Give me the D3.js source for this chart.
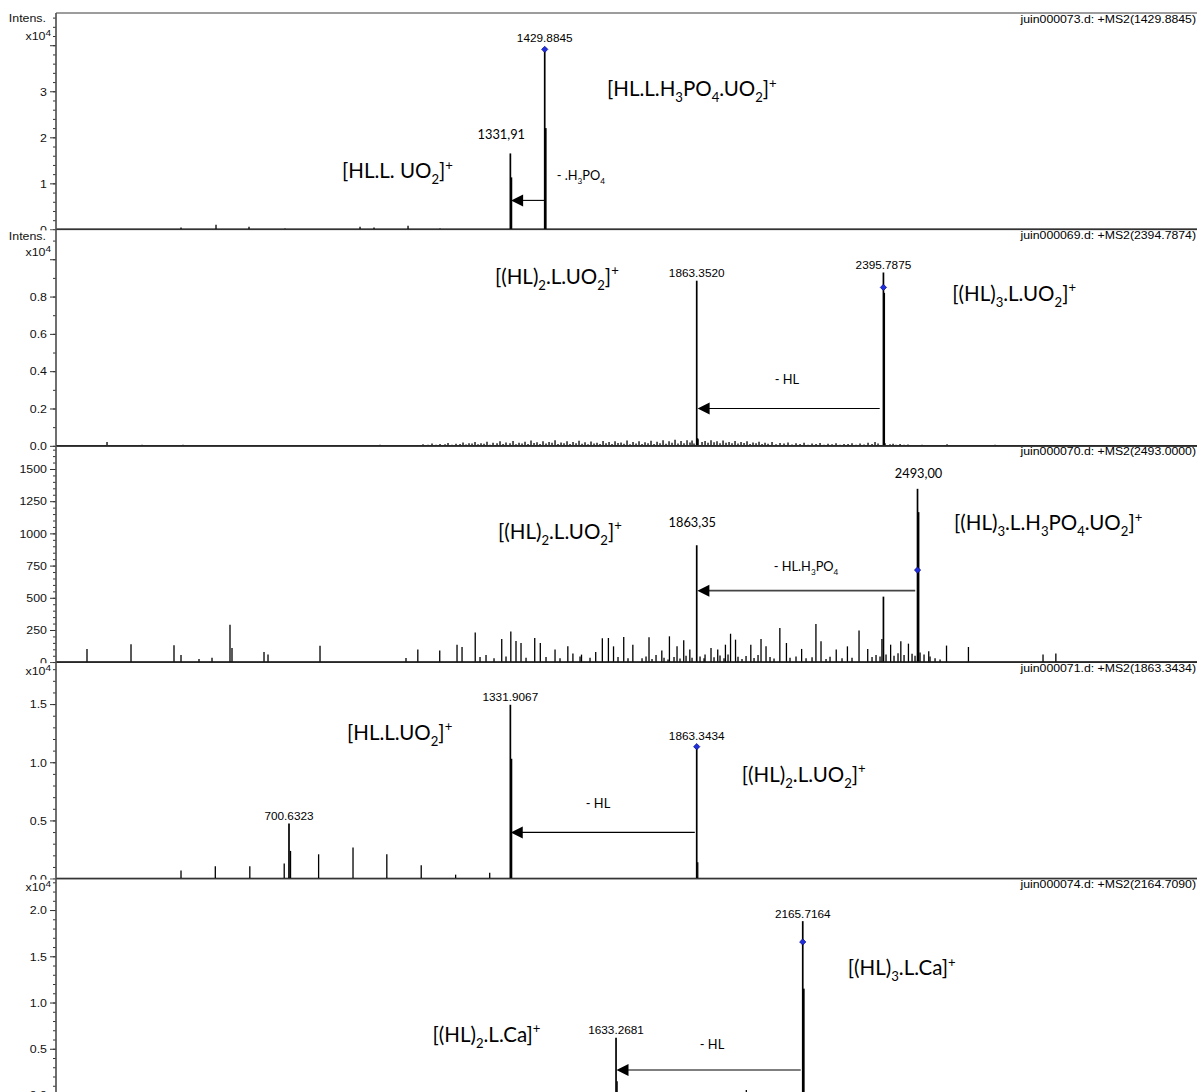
<!DOCTYPE html>
<html><head><meta charset="utf-8">
<script src="https://cdn.jsdelivr.net/npm/d3@7"></script>
<style>html,body{margin:0;padding:0;background:#fff}svg{display:block}</style>
</head><body>
<svg id="chart" width="1197" height="1092"></svg>
<script>
// ---------------- DATA ----------------
const mzDomain = [36.2, 3290];
const panelFiles = ["juin000073.d: +MS2(1429.8845)", "juin000069.d: +MS2(2394.7874)", "juin000070.d: +MS2(2493.0000)", "juin000071.d: +MS2(1863.3434)", "juin000074.d: +MS2(2164.7090)"];
const panelYMax = [4.7, 1.16, 1680, 1.86, 2.34];
const panelMajor = [[0,1,2,3,4],[0,0.2,0.4,0.6,0.8,1.0],[0,250,500,750,1000,1250,1500],[0,0.5,1.0,1.5],[0,0.5,1.0,1.5,2.0]];
const panelMajorLabels = [["0","1","2","3",""],["0.0","0.2","0.4","0.6","0.8",""],["0","250","500","750","1000","1250","1500"],["0.0","0.5","1.0","1.5"],["0.0","0.5","1.0","1.5","2.0"]];
const panelMinorStep = [0.2, 0.1, 50, 0.1, 0.1];
const panelIntens = [true, true, false, false, false];
const panelExp = [true, true, false, true, true];

// panel 1 (juin000073)
const p1Mz = [392.7, 492.5, 586.6, 689.3, 903.2, 943.1, 1040.1, 1131.3, 1331.91, 1334.9, 1429.8845, 1432.9];
const p1Int = [0.04, 0.10, 0.06, 0.02, 0.06, 0.04, 0.08, 0.02, 1.65, 1.13, 3.91, 2.20];
// panel 2 (juin000069)
const p2Mz = [1863.352, 1866.0, 2395.7875, 2398.0];
const p2Int = [0.885, 0.04, 0.929, 0.82];
const p2NoiseMz = [181.7, 281.5, 375.6, 398.4, 503.9, 618.0, 732.1, 846.1, 960.2, 1017.2, 1074.3, 1097.1, 1119.9, 1145.6, 1165.5, 1188.4, 1205.5, 1222.6, 1239.7, 1256.8, 1273.9, 1293.9, 1311.0, 1330.9, 1348.0, 1365.2, 1382.3, 1399.4, 1416.5, 1433.6, 1450.7, 1467.8, 1484.9, 1502.0, 1519.2, 1536.3, 1553.4, 1570.5, 1587.6, 1604.7, 1621.8, 1638.9, 1656.0, 1673.1, 1690.3, 1707.4, 1724.5, 1741.6, 1758.7, 1775.8, 1792.9, 1810.0, 1827.1, 1844.2, 1855.6, 1878.5, 1895.6, 1912.7, 1929.8, 1946.9, 1964.0, 1981.1, 1998.3, 2015.4, 2032.5, 2049.6, 2066.7, 2089.5, 2112.3, 2135.1, 2158.0, 2180.8, 2203.6, 2226.4, 2249.2, 2272.0, 2294.9, 2317.7, 2340.5, 2363.3, 2380.4, 2414.6, 2431.7, 2454.6, 2477.4, 2505.9, 2540.1, 2577.2, 2619.9, 2671.3, 2714.1, 2799.6, 2842.4, 2899.4];
const p2NoiseInt = [0.021, 0.006, 0.004, 0.005, 0.003, 0.004, 0.003, 0.004, 0.005, 0.004, 0.004, 0.006, 0.005, 0.008, 0.006, 0.010, 0.007, 0.012, 0.008, 0.011, 0.006, 0.013, 0.009, 0.014, 0.008, 0.012, 0.010, 0.015, 0.009, 0.012, 0.016, 0.010, 0.013, 0.009, 0.014, 0.011, 0.008, 0.012, 0.010, 0.013, 0.009, 0.015, 0.011, 0.008, 0.012, 0.010, 0.014, 0.009, 0.013, 0.011, 0.016, 0.012, 0.014, 0.018, 0.012, 0.020, 0.016, 0.019, 0.013, 0.017, 0.014, 0.012, 0.015, 0.010, 0.013, 0.009, 0.011, 0.008, 0.012, 0.007, 0.010, 0.006, 0.009, 0.005, 0.008, 0.006, 0.009, 0.005, 0.007, 0.010, 0.012, 0.008, 0.006, 0.005, 0.004, 0.006, 0.003, 0.008, 0.004, 0.003, 0.006, 0.004, 0.003, 0.004];
const p2Noise2Mz = [1082.8, 1108.5, 1131.3, 1154.1, 1176.9, 1196.9, 1214.0, 1231.1, 1248.2, 1265.3, 1282.5, 1302.4, 1319.5, 1339.5, 1356.6, 1373.7, 1390.8, 1407.9, 1425.0, 1442.2, 1459.3, 1476.4, 1493.5, 1510.6, 1527.7, 1544.8, 1561.9, 1579.0, 1596.2, 1613.3, 1630.4, 1647.5, 1664.6, 1681.7, 1698.8, 1715.9, 1733.0, 1750.2, 1767.3, 1784.4, 1801.5, 1818.6, 1835.7, 1850.0, 1867.1, 1887.1, 1904.1, 1921.2, 1938.4, 1955.5, 1972.6, 1989.7, 2006.8, 2023.9, 2041.0, 2058.1, 2078.1, 2100.9, 2123.7, 2146.5, 2169.4, 2192.2, 2215.0, 2237.8, 2260.6, 2283.4, 2306.2, 2329.1, 2351.9, 2371.8, 2400.4, 2423.2, 2443.2, 2465.9];
const p2Noise2Int = [0.008, 0.012, 0.010, 0.015, 0.011, 0.018, 0.013, 0.020, 0.014, 0.022, 0.016, 0.024, 0.018, 0.026, 0.017, 0.022, 0.028, 0.019, 0.025, 0.021, 0.030, 0.018, 0.024, 0.020, 0.027, 0.019, 0.023, 0.017, 0.026, 0.020, 0.024, 0.018, 0.028, 0.021, 0.025, 0.019, 0.027, 0.022, 0.030, 0.024, 0.032, 0.026, 0.030, 0.028, 0.035, 0.026, 0.030, 0.024, 0.028, 0.021, 0.026, 0.020, 0.025, 0.018, 0.022, 0.016, 0.020, 0.015, 0.018, 0.013, 0.016, 0.012, 0.015, 0.011, 0.014, 0.010, 0.013, 0.012, 0.016, 0.020, 0.014, 0.011, 0.009, 0.007];
// panel 3 (juin000070)
const p3Mz = [124.6, 250.1, 372.7, 392.7, 444.0, 481.1, 532.4, 538.1, 629.4, 640.8, 789.1, 1034.3, 1068.0, 1130.5, 1179.8, 1194.1, 1231.7, 1307.3, 1333.2, 1348.0, 1362.3, 1401.4, 1417.3, 1459.3, 1495.8, 1510.3, 1534.8, 1575.3, 1594.2, 1611.5, 1626.1, 1655.2, 1681.2, 1727.3, 1763.8, 1785.5, 1807.2, 1826.3, 1843.7, 1863.35, 1887.1, 1904.1, 1923.3, 1945.2, 1959.8, 1974.0, 2017.6, 2046.7, 2061.0, 2100.4, 2119.2, 2162.5, 2203.3, 2217.8, 2261.2, 2293.1, 2326.2, 2351.0, 2391.5, 2395.8, 2416.3, 2445.4, 2467.1, 2493.0, 2496.0, 2525.0, 2575.7, 2638.2, 2850.9, 2887.5];
const p3Int = [103, 140, 131, 55, 25, 35, 290, 110, 80, 60, 128, 33, 98, 90, 136, 118, 231, 180, 239, 165, 149, 188, 149, 98, 123, 67, 59, 80, 185, 188, 123, 195, 136, 193, 90, 201, 123, 170, 98, 908, 59, 110, 98, 136, 221, 175, 136, 180, 123, 265, 149, 103, 296, 162, 98, 123, 247, 103, 180, 509, 136, 162, 144, 1346, 1165, 85, 129, 118, 59, 67];
const p3GrassMz = [1245.4, 1262.5, 1285.3, 1319.5, 1376.6, 1433.6, 1473.5, 1530.6, 1559.1, 1638.9, 1667.4, 1707.4, 1718.8, 1735.9, 1747.3, 1770.1, 1781.5, 1798.6, 1815.7, 1832.9, 1850.0, 1872.8, 1884.2, 1912.7, 1929.8, 1941.2, 1952.6, 1981.1, 1992.5, 2004.0, 2026.8, 2038.2, 2072.4, 2083.8, 2129.4, 2146.5, 2175.1, 2192.2, 2232.1, 2243.5, 2277.7, 2306.2, 2363.3, 2374.7, 2386.1, 2403.2, 2426.0, 2437.4, 2454.6, 2477.4, 2485.9, 2500.2, 2511.6, 2528.7, 2543.0, 2557.3];
const p3GrassInt = [40, 55, 30, 45, 35, 40, 30, 45, 35, 40, 30, 30, 45, 25, 55, 35, 20, 40, 28, 50, 35, 45, 30, 38, 52, 30, 60, 42, 25, 48, 33, 55, 40, 28, 35, 45, 30, 38, 25, 42, 30, 35, 40, 55, 45, 60, 50, 70, 55, 65, 50, 75, 60, 45, 30, 20];
// panel 4 (juin000071)
const p4Mz = [392.7, 490.5, 588.9, 687.0, 700.6323, 705.0, 785.1, 883.2, 979.6, 1077.7, 1175.8, 1273.0, 1331.9067, 1335.0, 1863.3434, 1866.3];
const p4Int = [0.07, 0.106, 0.106, 0.129, 0.474, 0.238, 0.209, 0.267, 0.209, 0.115, 0.034, 0.05, 1.494, 1.03, 1.134, 0.14];
// panel 5 (juin000074)
const p5Mz = [1633.2681, 1636.3, 2004.8, 2165.7164, 2168.7];
const p5Int = [0.62, 0.15, 0.054, 1.88, 1.15];

// precursor markers (blue diamonds)
const precursorMz = [1429.8845, 2395.7875, 2493.0, 1863.3434, 2165.7164];
const precursorMarkInt = [3.91, 0.849, 715, 1.134, 1.655];

// instrument peak labels
const labelPanel = [0, 1, 1, 3, 3, 3, 4, 4];
const labelMz = [1429.8845, 1863.352, 2395.7875, 700.6323, 1331.9067, 1863.3434, 1633.2681, 2165.7164];

// annotations
const annPanel = [0, 0, 0, 0, 1, 1, 1, 2, 2, 2, 2, 2, 3, 3, 3, 4, 4, 4];
const annText = ["[HL.L.H_3PO_4.UO_2]^+", "[HL.L. UO_2]^+", "- .H_3PO_4", "1331,91",
  "[(HL)_2.L.UO_2]^+", "[(HL)_3.L.UO_2]^+", "- HL",
  "[(HL)_2.L.UO_2]^+", "[(HL)_3.L.H_3PO_4.UO_2]^+", "- HL.H_3PO_4", "2493,00", "1863,35",
  "[HL.L.UO_2]^+", "[(HL)_2.L.UO_2]^+", "- HL",
  "[(HL)_2.L.Ca]^+", "[(HL)_3.L.Ca]^+", "- HL"];
const annMz = [1607.6, 851.8, 1464.1, 1306.1, 1288.0, 2592.0, 2120.8, 1296.7, 2597.1, 2082.9, 2496.0, 1850.8, 866.1, 1992.0, 1581.9, 1109.9, 2294.2, 1907.0];
const annInt = [2.89, 1.11, 1.065, 1.957, 0.867, 0.777, 0.331, 960, 1024, 710, 1430, 1049, 1.192, 0.833, 0.603, 0.576, 1.296, 0.494];
const annKind = ["ion","ion","start","mid","ion","ion","mid","ion","ion","start","mid","mid","ion","ion","mid","ion","ion","mid"];

// neutral-loss arrows
const arrowPanel = [0, 1, 2, 3, 4];
const arrowFromMz = [1431.0, 2385.2, 2486.4, 1857.9, 2159.9];
const arrowToMz = [1334.0, 1866.0, 1865.3, 1333.0, 1634.5];
const arrowInt = [0.63, 0.2, 555.6, 0.397, 0.27];

// ---------------- DRAWING ----------------
const svg = d3.select("#chart");
const W = 1197;
const axisX = 56;
const top0 = 13, PH = 216.4;
const X = d3.scaleLinear().domain(mzDomain).range([axisX, W]);
const arial = "'Liberation Sans', Arial, sans-serif";
const calib = "Lato, 'Open Sans', sans-serif";
const SX = 1.18;

const zip = (a, b) => a.slice(0, Math.min(a.length, b.length)).map((m, k) => ({mz: m, v: b[k]}));
const panelPeaks = [
  zip(p1Mz, p1Int),
  zip(p2NoiseMz, p2NoiseInt).concat(zip(p2Noise2Mz, p2Noise2Int), zip(p2Mz, p2Int)),
  zip(p3GrassMz, p3GrassInt).concat(zip(p3Mz, p3Int)),
  zip(p4Mz, p4Int),
  zip(p5Mz, p5Int)
];

const intensOffset = [9, 11, 0, 0, 0];
const expOffset = [27, 26.7, 0, 13, 12.4];
const bgOffset = [0, 1, 6, 1, 1];

function richText(sel, str, x, y, size, family, anchor) {
  const t = sel.append("text").attr("x", x).attr("y", y)
    .attr("font-family", family).attr("font-size", size)
    .attr("text-anchor", anchor || "start").attr("fill", "#000");
  const segs = [];
  let i = 0;
  while (i < str.length) {
    const c = str[i];
    if (c === "_" || c === "^") { segs.push({t: str[i + 1], k: c}); i += 2; }
    else {
      let j = i;
      while (j < str.length && str[j] !== "_" && str[j] !== "^") j++;
      segs.push({t: str.slice(i, j), k: ""}); i = j;
    }
  }
  let shift = 0;
  segs.forEach(s => {
    const target = s.k === "_" ? size * 0.3 : s.k === "^" ? -size * 0.42 : 0;
    const ts = t.append("tspan").attr("dy", (target - shift).toFixed(2)).text(s.t);
    if (s.k) ts.attr("font-size", (size * 0.64).toFixed(2));
    shift = target;
  });
  return t;
}

panelYMax.forEach((ymax, i) => {
  const top = top0 + i * PH, base = top + PH;
  const Y = d3.scaleLinear().domain([0, ymax]).range([base, top]);
  const g = svg.append("g");

  g.append("rect").attr("x", 0).attr("y", i === 0 ? 0 : top + bgOffset[i])
    .attr("width", W).attr("height", i === 0 ? base : PH - bgOffset[i]).attr("fill", "#fff");

  g.append("line").attr("x1", axisX).attr("x2", W).attr("y1", top).attr("y2", top)
    .attr("stroke", "#3a3a3a").attr("stroke-width", 1);

  g.append("g").selectAll("line").data(panelPeaks[i]).join("line")
    .attr("x1", d => X(d.mz)).attr("x2", d => X(d.mz))
    .attr("y1", Y(0)).attr("y2", d => Y(d.v))
    .attr("stroke", "#000").attr("stroke-width", d => d.v > ymax * 0.2 ? 1.7 : 1.3);

  g.append("line").attr("x1", axisX).attr("x2", W).attr("y1", Y(0)).attr("y2", Y(0))
    .attr("stroke", "#000").attr("stroke-width", 1.8);

  const step = panelMinorStep[i];
  const nMinor = Math.floor(ymax / step + 1e-6);
  const minorVals = d3.range(0, nMinor + 1).map(k => +(k * step).toFixed(6));
  const minorAxis = g.append("g").attr("transform", `translate(${axisX},0)`)
    .call(d3.axisLeft(Y).tickValues(minorVals).tickSize(3).tickFormat(""));
  minorAxis.select(".domain").remove();
  minorAxis.selectAll("line").attr("stroke", "#333");

  const labels = panelMajorLabels[i];
  const majorAxis = g.append("g").attr("transform", `translate(${axisX},0)`)
    .call(d3.axisLeft(Y).tickValues(panelMajor[i]).tickSize(6).tickFormat((d, k) => labels[k]));
  majorAxis.select(".domain").remove();
  majorAxis.selectAll("line").attr("stroke", "#333");
  majorAxis.attr("font-family", arial).attr("font-size", 10.5);
  majorAxis.selectAll("text").attr("x", null).attr("dy", "0.36em")
    .attr("fill", "#111").attr("transform", `translate(-9,0) scale(${SX},1)`);

  g.append("line").attr("x1", axisX).attr("x2", axisX).attr("y1", top).attr("y2", base)
    .attr("stroke", "#555").attr("stroke-width", 1.7);

  g.append("text").attr("transform", `translate(${W - 1},${top + 9.5}) scale(${SX},1)`)
    .attr("text-anchor", "end").attr("font-family", arial).attr("font-size", 10.4)
    .attr("fill", "#000").text(panelFiles[i]);

  if (panelIntens[i]) {
    g.append("text").attr("transform", `translate(46,${top + intensOffset[i]}) scale(${SX},1)`)
      .attr("text-anchor", "end").attr("font-family", arial).attr("font-size", 10.5)
      .attr("fill", "#111").text("Intens.");
  }
  if (panelExp[i]) {
    const t = g.append("text").attr("transform", `translate(51,${top + expOffset[i]}) scale(${SX},1)`)
      .attr("text-anchor", "end").attr("font-family", arial).attr("font-size", 10.5).attr("fill", "#111");
    t.append("tspan").text("x10");
    t.append("tspan").attr("dy", -4).attr("font-size", 8.5).text("4");
  }

  arrowPanel.forEach((ap, k) => {
    if (ap !== i) return;
    const x1 = X(arrowFromMz[k]), x2 = X(arrowToMz[k]), y = Y(arrowInt[k]);
    g.append("line").attr("x1", x1).attr("x2", x2 + 10).attr("y1", y).attr("y2", y)
      .attr("stroke", i === 2 ? "#444" : "#000").attr("stroke-width", i === 2 ? 1.8 : 1.1);
    g.append("path").attr("d", `M${x2},${y}L${x2 + 12},${y - 6}L${x2 + 12},${y + 6}Z`).attr("fill", "#000");
  });

  const pm = precursorMz[i], pv = precursorMarkInt[i];
  g.append("path").attr("d", d3.symbol(d3.symbolSquare, 20)())
    .attr("transform", `translate(${X(pm)},${Y(pv)}) rotate(45)`)
    .attr("fill", "#1f2fe0").attr("stroke", "#00006a").attr("stroke-width", 0.6);

  labelPanel.forEach((lp, k) => {
    if (lp !== i) return;
    const mz = labelMz[k];
    const near = panelPeaks[i].filter(d => Math.abs(d.mz - mz) < 0.5);
    let yTop = Y(d3.max(near, d => d.v));
    if (Math.abs(pm - mz) < 0.5) yTop = Math.min(yTop, Y(pv) - 3.5);
    g.append("text").attr("transform", `translate(${X(mz)},${yTop - 3.5}) scale(${SX},1)`)
      .attr("text-anchor", "middle").attr("font-family", arial).attr("font-size", 10)
      .attr("fill", "#000").text(d3.format(".4f")(mz));
  });

  annPanel.forEach((ap, k) => {
    if (ap !== i) return;
    const kind = annKind[k];
    const x = X(annMz[k]), y = Y(annInt[k]);
    if (kind === "ion") richText(g, annText[k], x, y, 20.5, calib, "start");
    else richText(g, annText[k], x, y, 12.8, calib, kind === "mid" ? "middle" : "start");
  });
});
</script>
</body></html>
